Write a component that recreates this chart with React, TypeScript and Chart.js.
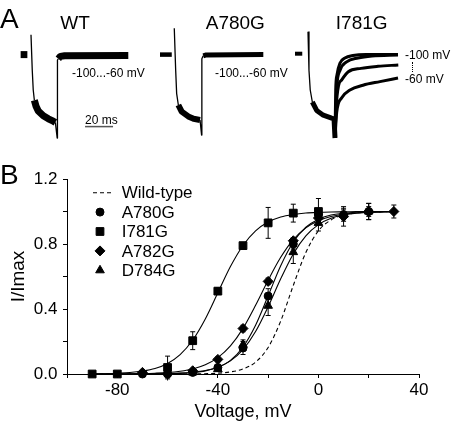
import React, { useEffect, useRef } from 'react';
import { Chart, registerables } from 'chart.js';
import { drawPoint } from 'chart.js/helpers';

Chart.register(...registerables);

const FONT = 'Arial, "Liberation Sans", Helvetica, sans-serif';
Chart.defaults.font.family = FONT;

// ---------------- Panel A: current traces (time in ms, current normalised) ----------------
const WT_BASE_T = [-7.4, -2.6];
const WT_BASE_I = [-0.01, -0.01];
const WT_ON_T = [0, 0.9, 1.6, 2.4];
const WT_ON_I = [0.32, -0.27, -0.6, -0.77];
const WT_IN_T = [2.4, 3.6, 5.2, 8.8, 12.4, 15.9, 17.4];
const WT_IN_I = [-0.77, -0.87, -0.95, -1.03, -1.08, -1.12, -1.14];
const WT_TAIL_T = [17.4, 18.7, 18.9, 19.5];
const WT_TAIL_I = [-1.14, -1.4, -0.1, -0.08];
const WT_POST_T = [19.5, 21, 24, 69.5];
const WT_POST_I = [-0.08, -0.04, -0.03, -0.025];
const SCALEBAR_T = [38.6, 58.6];
const SCALEBAR_I = [-1.21, -1.21];

const A780G_BASE_T = [-10, -1.6];
const A780G_BASE_I = [-0.01, -0.01];
const A780G_ON_T = [0.2, 1.2, 1.9, 3.1];
const A780G_ON_I = [0.43, -0.27, -0.66, -0.85];
const A780G_IN_T = [3.1, 5.5, 10.2, 14, 18.6];
const A780G_IN_I = [-0.85, -0.96, -1.04, -1.08, -1.1];
const A780G_TAIL_T = [18.6, 19.7, 19.9, 20.9];
const A780G_TAIL_I = [-1.1, -1.35, -0.08, -0.03];
const A780G_POST_T = [20.9, 23, 63.8];
const A780G_POST_I = [-0.03, -0.015, -0.01];

const I781G_BASE_T = [-9.3, -4.1];
const I781G_BASE_I = [0.005, 0.005];
const I781G_ON_T = [0, 0.7, 1.6, 3.1];
const I781G_ON_I = [0.37, -0.27, -0.6, -0.8];
const I781G_IN_T = [3.1, 6.2, 10.9, 16.9, 18.6, 19.3];
const I781G_IN_I = [-0.8, -0.94, -1.02, -1.07, -1.08, -1.4];
const I781G_T1_T = [19.3, 19.8, 20.7, 22.9, 26.4, 32.1, 41.4, 64.3];
const I781G_T1_I = [-1.4, -0.6, -0.35, -0.15, -0.067, -0.025, -0.008, -0.008];
const I781G_T2_T = [19.3, 20.5, 22.9, 27.6, 35.7, 45.7, 64.3];
const I781G_T2_I = [-1.4, -0.57, -0.27, -0.13, -0.067, -0.033, -0.017];
const I781G_T3_T = [19.3, 20.1, 21.8, 24.1, 28.8, 37.9, 50, 64.5];
const I781G_T3_I = [-1.4, -0.9, -0.53, -0.43, -0.295, -0.24, -0.205, -0.183];
const I781G_T4_T = [19.3, 20.5, 24.1, 30, 39.3, 51.4, 64.3];
const I781G_T4_I = [-1.4, -0.97, -0.73, -0.6, -0.52, -0.46, -0.4];

// ---------------- Panel B: activation curves ----------------
const V_A780G = [-70, -60, -50, -40, -30, -20, -10, 0, 10, 20];
const A780G = [0.0, 0.0, 0.01, 0.04, 0.16, 0.48, 0.8, 0.98, 0.98, 1.0];
const A780G_ERR = [0.01, 0.01, 0.01, 0.015, 0.04, 0.045, 0.03, 0.03, 0.04, 0.05];

const V_I781G = [-90, -80, -60, -50, -40, -30, -20, -10, 0];
const I781G = [0.0, 0.0, 0.04, 0.205, 0.51, 0.79, 0.93, 0.99, 1.0];
const I781G_ERR = [0, 0, 0.07, 0.055, 0.02, 0.015, 0.095, 0.055, 0.08];

const V_A782G = [-70, -60, -50, -40, -30, -20, -10, 0, 10, 20, 30];
const A782G = [0.01, 0.0, 0.02, 0.09, 0.28, 0.57, 0.82, 0.96, 0.97, 1.0, 1.0];
const A782G_ERR = [0.01, 0.04, 0.01, 0.015, 0.02, 0.02, 0.02, 0.03, 0.06, 0.05, 0.04];

const V_D784G = [-50, -40, -30, -20, -10, 0, 10, 20];
const D784G = [0.01, 0.03, 0.18, 0.42, 0.75, 0.93, 0.98, 1.0];
const D784G_ERR = [0.005, 0.01, 0.03, 0.06, 0.07, 0.05, 0.03, 0.03];

const FIT_V = [-90, -85, -80, -75, -70, -65, -60, -55, -50, -45, -40, -35, -30, -25, -20, -15, -10, -5, 0, 5, 10, 15, 20, 25, 30];
const FIT_WT = [0, 0, 0, 0, 0, 0, 0.0001, 0.0003, 0.0008, 0.002, 0.005, 0.013, 0.031, 0.073, 0.163, 0.326, 0.545, 0.748, 0.881, 0.948, 0.978, 0.991, 0.996, 0.998, 0.999];
const FIT_A780G = [0, 0, 0.0001, 0.0002, 0.0004, 0.0009, 0.002, 0.004, 0.009, 0.019, 0.041, 0.084, 0.166, 0.3, 0.481, 0.666, 0.812, 0.903, 0.953, 0.978, 0.989, 0.995, 0.998, 0.999, 1.0];
const FIT_I781G = [0.001, 0.002, 0.005, 0.009, 0.018, 0.034, 0.065, 0.119, 0.209, 0.339, 0.5, 0.661, 0.791, 0.881, 0.935, 0.966, 0.982, 0.991, 0.995, 0.997, 0.998, 0.999, 1.0, 1.0, 1.0];
const FIT_A782G = [0, 0.0004, 0.0008, 0.0014, 0.0026, 0.005, 0.009, 0.017, 0.031, 0.057, 0.101, 0.173, 0.281, 0.423, 0.577, 0.718, 0.827, 0.899, 0.943, 0.969, 0.983, 0.991, 0.995, 0.997, 0.999];
const FIT_D784G = [0, 0.0001, 0.0002, 0.0003, 0.0007, 0.0014, 0.0027, 0.0054, 0.011, 0.0215, 0.042, 0.081, 0.15, 0.261, 0.414, 0.586, 0.739, 0.85, 0.919, 0.958, 0.979, 0.989, 0.995, 0.997, 0.999];

const X_TICK_LABELS = [-80, -40, 0, 40];
const Y_TICK_LABELS = [0, 0.4, 0.8, 1.2];
const LEGEND_NAMES = ['Wild-type', 'A780G', 'I781G', 'A782G', 'D784G'];

// ---------------- helpers ----------------
const pts = (xs: number[], ys: number[]) => xs.map((x, k) => ({ x, y: ys[k] }));

function traceDs(t: number[], i: number[], width: number, extra: any = {}) {
  return {
    data: pts(t, i),
    showLine: true,
    borderColor: '#000',
    borderWidth: width,
    pointRadius: 0,
    clip: false,
    tension: 0,
    borderJoinStyle: 'round',
    borderCapStyle: 'butt',
    ...extra,
  };
}

function traceConfig(datasets: any[]) {
  return {
    type: 'scatter',
    data: { datasets },
    options: {
      animation: false,
      responsive: false,
      devicePixelRatio: 1,
      events: [],
      plugins: { legend: { display: false }, tooltip: { enabled: false } },
      layout: { padding: 0 },
      scales: {
        x: { type: 'linear', display: false, min: -10, max: 75 },
        y: { type: 'linear', display: false, min: -1.5, max: 0.5 },
      },
    },
  };
}

const STYLE = [
  { pointStyle: 'circle', radius: 4 },
  { pointStyle: 'rect', radius: 5.5 },
  { pointStyle: 'rectRot', radius: 5 },
  { pointStyle: 'triangle', radius: 5 },
];

function markerDs(v: number[], y: number[], s: { pointStyle: string; radius: number }) {
  return {
    data: pts(v, y),
    showLine: false,
    pointStyle: s.pointStyle,
    pointRadius: s.radius,
    pointBackgroundColor: '#000',
    pointBorderColor: '#000',
    pointBorderWidth: 1,
    clip: false,
  };
}

function fitDs(y: number[], dashed = false) {
  return {
    data: pts(FIT_V, y),
    showLine: true,
    borderColor: '#000',
    borderWidth: 1.1,
    borderDash: dashed ? [4, 3] : [],
    pointRadius: 0,
    cubicInterpolationMode: 'monotone',
    clip: false,
  };
}

function errDs(v: number[], y: number[], e: number[]) {
  const data: any[] = [];
  v.forEach((x, k) => {
    if (e[k] > 0) {
      data.push({ x, y: y[k] - e[k] });
      data.push({ x, y: y[k] + e[k] });
      data.push({ x, y: null });
    }
  });
  return {
    data,
    showLine: true,
    spanGaps: false,
    borderColor: '#000',
    borderWidth: 1,
    pointStyle: 'line',
    pointRadius: 2.5,
    pointBorderColor: '#000',
    pointBorderWidth: 1,
    clip: false,
  };
}

const legendPlugin = {
  id: 'insetLegend',
  afterDatasetsDraw(chart: any) {
    const { ctx, chartArea } = chart;
    ctx.save();
    ctx.font = `17px ${FONT}`;
    ctx.textBaseline = 'middle';
    ctx.fillStyle = '#000';
    ctx.strokeStyle = '#000';
    ctx.lineWidth = 1;
    LEGEND_NAMES.forEach((name, k) => {
      const y = chartArea.top + 13.7 + k * 19.4;
      if (k === 0) {
        ctx.lineWidth = 1.1;
        ctx.setLineDash([4, 3]);
        ctx.beginPath();
        ctx.moveTo(chartArea.left + 26, y);
        ctx.lineTo(chartArea.left + 44, y);
        ctx.stroke();
        ctx.setLineDash([]);
        ctx.lineWidth = 1;
      } else {
        const s = STYLE[k - 1];
        drawPoint(ctx, { pointStyle: s.pointStyle, radius: s.radius, borderWidth: 1, rotation: 0 } as any, chartArea.left + 33, y);
      }
      ctx.fillText(name, chartArea.left + 54.7, y + 1);
    });
    ctx.restore();
  },
};

function ChartCanvas({ config, left, top, width, height }: any) {
  const ref = useRef<HTMLCanvasElement>(null);
  useEffect(() => {
    const chart = new Chart(ref.current as HTMLCanvasElement, config);
    return () => chart.destroy();
  }, []);
  return (
    <canvas
      ref={ref}
      width={width}
      height={height}
      style={{ position: 'absolute', left, top, width, height }}
    />
  );
}

function Label({ text, x, baseline, size, center = false }: any) {
  const style: any = {
    position: 'absolute',
    top: baseline - 0.8465 * size,
    left: x,
    fontSize: size,
    lineHeight: `${size}px`,
    fontFamily: FONT,
    whiteSpace: 'nowrap',
    color: '#000',
  };
  if (center) style.transform = 'translateX(-50%)';
  return <div style={style}>{text}</div>;
}

const wtConfig = traceConfig([
  traceDs(WT_BASE_T, WT_BASE_I, 7),
  traceDs(WT_ON_T, WT_ON_I, 1.3),
  traceDs(WT_IN_T, WT_IN_I, 7),
  traceDs(WT_TAIL_T, WT_TAIL_I, 1.3),
  traceDs(WT_POST_T, WT_POST_I, 7),
  traceDs(SCALEBAR_T, SCALEBAR_I, 1.5, { borderColor: '#555' }),
]);

const a780Config = traceConfig([
  traceDs(A780G_BASE_T, A780G_BASE_I, 4.5),
  traceDs(A780G_ON_T, A780G_ON_I, 1.3),
  traceDs(A780G_IN_T, A780G_IN_I, 6),
  traceDs(A780G_TAIL_T, A780G_TAIL_I, 1.3),
  traceDs(A780G_POST_T, A780G_POST_I, 5),
]);

const i781Config = traceConfig([
  traceDs(I781G_BASE_T, I781G_BASE_I, 4),
  traceDs(I781G_ON_T, I781G_ON_I, 1.3),
  traceDs(I781G_IN_T, I781G_IN_I, 5),
  traceDs(I781G_T1_T, I781G_T1_I, 3, { cubicInterpolationMode: 'monotone' }),
  traceDs(I781G_T2_T, I781G_T2_I, 3, { cubicInterpolationMode: 'monotone' }),
  traceDs(I781G_T3_T, I781G_T3_I, 3, { cubicInterpolationMode: 'monotone' }),
  traceDs(I781G_T4_T, I781G_T4_I, 3, { cubicInterpolationMode: 'monotone' }),
]);

const axisGrid = {
  display: true,
  drawOnChartArea: false,
  drawTicks: true,
  tickLength: 4,
  color: '#000',
  lineWidth: 1,
};

const bConfig = {
  type: 'scatter',
  data: {
    datasets: [
      markerDs(V_A780G, A780G, STYLE[0]),
      markerDs(V_I781G, I781G, STYLE[1]),
      markerDs(V_A782G, A782G, STYLE[2]),
      markerDs(V_D784G, D784G, STYLE[3]),
      fitDs(FIT_WT, true),
      fitDs(FIT_A780G),
      fitDs(FIT_I781G),
      fitDs(FIT_A782G),
      fitDs(FIT_D784G),
      errDs(V_A780G, A780G, A780G_ERR),
      errDs(V_I781G, I781G, I781G_ERR),
      errDs(V_A782G, A782G, A782G_ERR),
      errDs(V_D784G, D784G, D784G_ERR),
    ],
  },
  options: {
    animation: false,
    responsive: false,
    devicePixelRatio: 1,
    events: [],
    layout: { padding: { top: 19, right: 33, left: 0, bottom: 0 } },
    plugins: { legend: { display: false }, tooltip: { enabled: false } },
    scales: {
      x: {
        type: 'linear',
        min: -100,
        max: 40,
        grid: axisGrid,
        border: { display: true, color: '#000', width: 1 },
        ticks: {
          stepSize: 20,
          autoSkip: false,
          maxRotation: 0,
          padding: 2,
          color: '#000',
          font: { size: 17, family: FONT },
          callback: (v: number) => (X_TICK_LABELS.includes(v) ? String(v) : ''),
        },
        title: {
          display: true,
          text: 'Voltage, mV',
          color: '#000',
          font: { size: 18, family: FONT },
          padding: { top: 0, bottom: 3 },
        },
        afterFit: (s: any) => {
          s.height = 52;
        },
      },
      y: {
        type: 'linear',
        min: 0,
        max: 1.2,
        grid: axisGrid,
        border: { display: true, color: '#000', width: 1 },
        ticks: {
          stepSize: 0.2,
          padding: 5.5,
          color: '#000',
          font: { size: 17, family: FONT },
          callback: (v: number) =>
            Y_TICK_LABELS.some((t) => Math.abs(t - v) < 1e-6) ? v.toFixed(1) : '',
        },
        title: {
          display: true,
          text: 'I/Imax',
          color: '#000',
          font: { size: 19, family: FONT },
          padding: { top: 7, bottom: 0 },
        },
        afterFit: (s: any) => {
          s.width = 67;
        },
      },
    },
  },
  plugins: [legendPlugin],
};

export default function App() {
  return (
    <div
      style={{
        position: 'fixed',
        left: 0,
        top: 0,
        width: 452,
        height: 426,
        background: '#fff',
        overflow: 'hidden',
      }}
    >
      <ChartCanvas config={wtConfig} left={17} top={24} width={119} height={120} />
      <ChartCanvas config={a780Config} left={160} top={24} width={119} height={120} />
      <ChartCanvas config={i781Config} left={294} top={24} width={119} height={120} />
      <ChartCanvas config={bConfig} left={0} top={160} width={452} height={266} />

      <Label text="A" x={0} baseline={28.3} size={28} />
      <Label text="WT" x={75} baseline={29.3} size={19} center />
      <Label text="A780G" x={235.3} baseline={29.3} size={19} center />
      <Label text="I781G" x={361.7} baseline={29.3} size={19} center />
      <Label text="-100...-60 mV" x={72} baseline={77} size={12} />
      <Label text="-100...-60 mV" x={215} baseline={77} size={12} />
      <Label text="20 ms" x={85} baseline={124} size={12} />
      <Label text="-100 mV" x={405} baseline={59} size={12} />
      <Label text="-60 mV" x={405} baseline={83} size={12} />
      <div
        style={{
          position: 'absolute',
          left: 412,
          top: 62,
          width: 0,
          height: 10,
          borderLeft: '1px dotted #000',
        }}
      />
      <Label text="B" x={0} baseline={185} size={28} />
    </div>
  );
}
